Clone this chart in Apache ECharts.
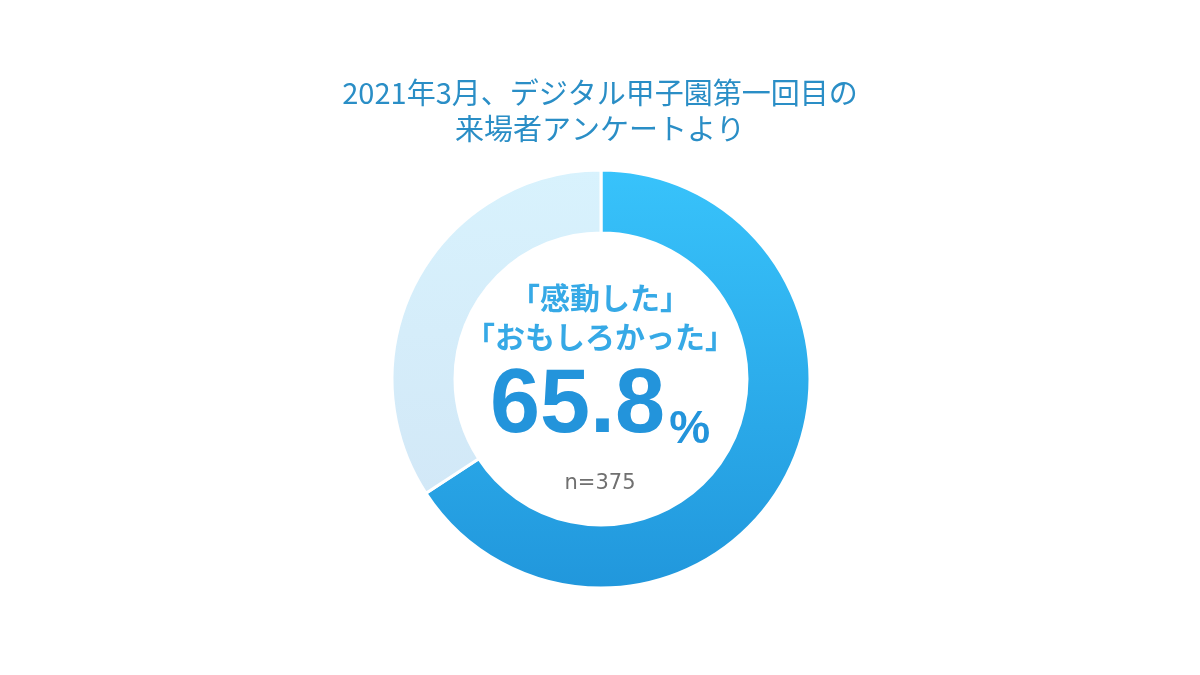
<!DOCTYPE html>
<html><head><meta charset="utf-8">
<script src="https://cdn.jsdelivr.net/npm/echarts@6/dist/echarts.min.js"></script>
<style>html,body{margin:0;padding:0;background:#fff;}#c{width:1200px;height:675px;}</style>
</head><body><div id="c"></div>
<script>
const categories = ['感動した・おもしろかった', 'その他'];
const values = [65.8, 34.2];
const titleLines = ['2021年3月、デジタル甲子園第一回目の', '来場者アンケートより'];
const centerLines = ['「感動した」', '「おもしろかった」'];
const bigValue = '65.8';
const sampleSize = 'n=375';

const chart = echarts.init(document.getElementById('c'));
const jp = '"Noto Sans CJK JP", "Noto Sans", sans-serif';
const num = '"Liberation Sans", Arial, sans-serif';
chart.setOption({
  animation: false,
  backgroundColor: '#ffffff',
  title: [
    { text: titleLines.join('\n'), left: 'center', top: 70,
      textStyle: { fontFamily: jp, fontSize: 29, fontWeight: 'normal', color: '#2a8ec6', lineHeight: 36 } },
    { text: centerLines.join('\n'), left: 'center', top: 273,
      textStyle: { fontFamily: jp, fontSize: 30, fontWeight: 'bold', color: '#36a9e6', lineHeight: 39 } },
    { text: '{v|' + bigValue + '}{p|%}', left: 'center', top: 356,
      textStyle: { rich: {
        v: { fontFamily: num, fontSize: 90, fontWeight: 'bold', color: '#2394db', lineHeight: 92 },
        p: { fontFamily: num, fontSize: 46, fontWeight: 'bold', color: '#2394db', lineHeight: 92, verticalAlign: 'bottom', padding: [0,0,0,4] }
      } } },
    { text: sampleSize, left: 'center', top: 468,
      textStyle: { fontFamily: '"DejaVu Sans", sans-serif', fontSize: 21, fontWeight: 'normal', color: '#707070' } }
  ],
  series: [{
    type: 'pie',
    center: [601, 379],
    radius: [146, 209],
    startAngle: 90,
    clockwise: true,
    silent: true,
    label: { show: false },
    labelLine: { show: false },
    itemStyle: { borderColor: '#ffffff', borderWidth: 3 },
    data: categories.map((c, i) => ({
      name: c, value: values[i],
      itemStyle: { color: i === 0
        ? new echarts.graphic.LinearGradient(0, 0, 0, 1, [{offset: 0, color: '#38c3fb'}, {offset: 1, color: '#2197dc'}])
        : new echarts.graphic.LinearGradient(0, 0, 0, 1, [{offset: 0, color: '#d8f2fd'}, {offset: 1, color: '#d2e8f7'}]) }
    }))
  }]
});
</script></body></html>
